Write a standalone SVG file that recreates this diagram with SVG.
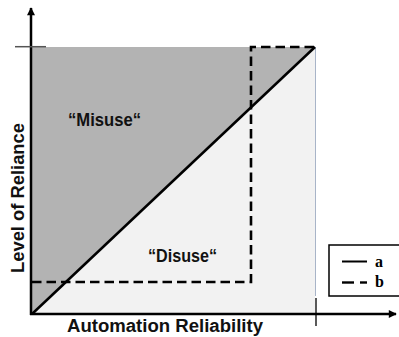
<svg xmlns="http://www.w3.org/2000/svg" width="399" height="337" viewBox="0 0 399 337">
<style>
.lbl{font-family:"Liberation Sans",Arial,sans-serif;font-weight:bold;fill:#111;}
.leg{font-family:"Liberation Serif","Times New Roman",serif;font-weight:bold;font-size:16px;fill:#000;}
.ax{stroke:#000;stroke-width:2.5;fill:none;}
.dash{stroke:#000;stroke-width:2.6;fill:none;stroke-dasharray:9.5 5;}
</style>
<defs>
<marker id="arr" viewBox="0 0 10 10" refX="9" refY="5" markerWidth="3.6" markerHeight="3.2" orient="auto" markerUnits="strokeWidth">
<path d="M0,0 L10,5 L0,10 z" fill="#000"/>
</marker>
</defs>
<rect width="399" height="337" fill="#fff"/>
<g id="regions">
<polygon id="misuse-region" points="32,47 315,47 32,314" fill="#b3b3b3"/>
<polygon id="disuse-region" points="32,314 315,47 315,314" fill="#f2f2f2"/>
<line x1="315.5" y1="47" x2="315.5" y2="296" stroke="#a8b4c8" stroke-width="1"/>
</g>
<g id="connectors">
<line class="ax" x1="31" y1="315" x2="31" y2="8" marker-end="url(#arr)"/>
<line class="ax" x1="30" y1="314" x2="396" y2="314" marker-end="url(#arr)"/>
<line x1="15" y1="46.7" x2="46" y2="46.7" stroke="#555" stroke-width="1.5"/>
<line x1="316" y1="298" x2="316" y2="326" stroke="#000" stroke-width="1.3"/>
<line id="line-a" x1="32" y1="314" x2="315" y2="47" stroke="#000" stroke-width="2.5"/>
<polyline id="line-b" class="dash" points="32,282 251,282 251,47 315,47"/>
</g>
<g id="labels">
<text class="lbl" x="68" y="126" font-size="18" textLength="73" lengthAdjust="spacingAndGlyphs">“Misuse“</text>
<text class="lbl" x="148" y="262" font-size="18" textLength="69" lengthAdjust="spacingAndGlyphs">“Disuse“</text>
<text class="lbl" x="67" y="332" font-size="18" textLength="196" lengthAdjust="spacingAndGlyphs">Automation Reliability</text>
<text class="lbl" transform="translate(24,273) rotate(-90)" x="0" y="0" font-size="18" textLength="150" lengthAdjust="spacingAndGlyphs">Level of Reliance</text>
</g>
<g id="legend">
<rect x="329" y="245" width="72" height="51" fill="#fff" stroke="#000" stroke-width="1.5"/>
<line x1="342" y1="261.5" x2="367" y2="261.5" stroke="#000" stroke-width="2"/>
<line x1="342" y1="282.5" x2="354" y2="282.5" stroke="#000" stroke-width="2.4"/>
<line x1="360" y1="282.5" x2="367" y2="282.5" stroke="#000" stroke-width="2.4"/>
<text class="leg" x="375" y="267">a</text>
<text class="leg" x="375" y="287">b</text>
</g>
</svg>
